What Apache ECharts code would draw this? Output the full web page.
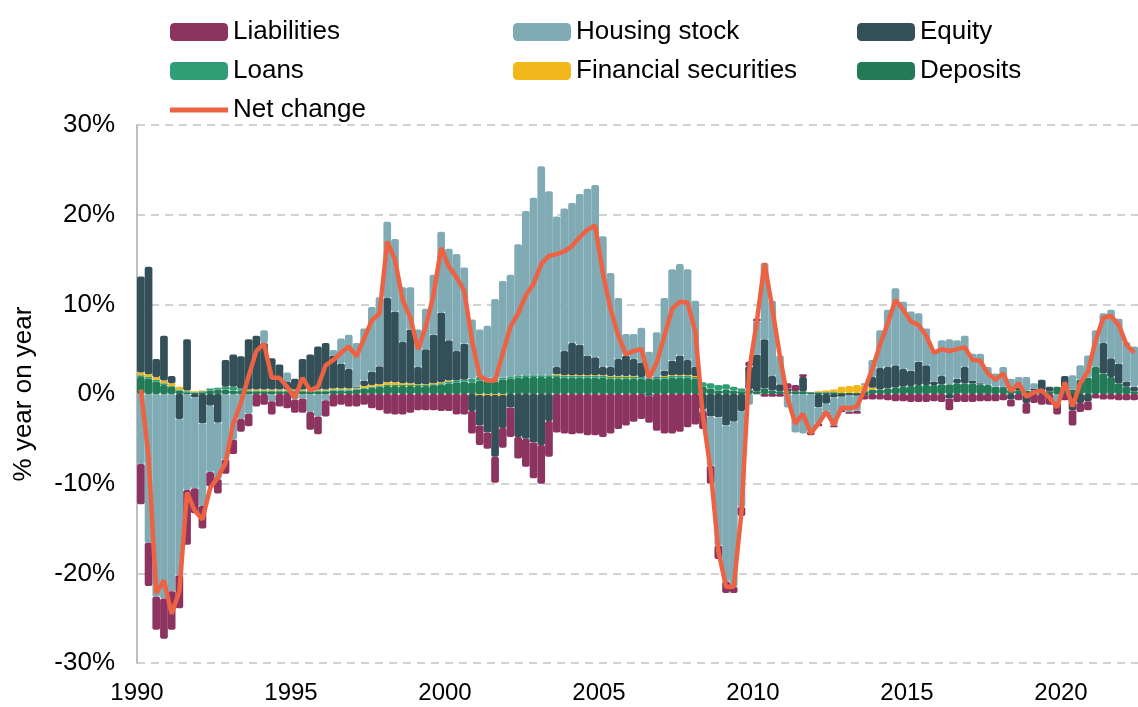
<!DOCTYPE html>
<html>
<head>
<meta charset="utf-8">
<title>Household balance sheet</title>
<script src="https://cdn.jsdelivr.net/npm/echarts/dist/echarts.min.js"></script>
<style>
  html, body { margin: 0; padding: 0; background: #fff; }
  #chart { width: 1138px; height: 707px; }
</style>
</head>
<body>
<div id="chart"></div>
<script>
// quarterly data, 1990 Q1 .. 2022 Q2, % year on year
const firstYear = 1990
const quarterCount = 130

const deposits = [
  1.9, 1.7, 1.4, 1.0,  0.8, 0.4, 0.2, 0.1,  0.2, 0.4, 0.5, 0.5,  0.4, 0.4, 0.3, 0.3,
  0.3, 0.3, 0.3, 0.3,  0.3, 0.3, 0.3, 0.3,  0.3, 0.4, 0.4, 0.4,  0.5, 0.6, 0.7, 0.8,
  0.9, 0.9, 0.9, 0.9,  0.9, 0.9, 1.0, 1.1,  1.2, 1.3, 1.4, 1.3,  1.5, 1.5, 1.4, 1.6,
  1.7, 1.8, 1.9, 1.9,  1.9, 1.9, 1.9, 1.8,  1.8, 1.8, 1.8, 1.8,  1.8, 1.7, 1.7, 1.7,
  1.7, 1.7, 1.7, 1.7,  1.7, 1.8, 1.8, 1.8,  1.7, 0.8, 0.6, 0.4,  0.5, 0.4, 0.3, 0.5,
  0.3, 0.6, 0.4, 0.3,  0.3, 0.3, 0.3, 0.2,  0.2, 0.2, 0.2, 0.1,  0.1, 0.1, 0.3, 0.5,
  0.5, 0.6, 0.7, 0.8,  0.9, 1.0, 1.0, 1.0,  1.1, 1.1, 1.2, 1.2,  1.2, 1.1, 1.0, 0.8,
  0.7, 0.5, 0.4, 0.4,  0.4, 0.4, 0.3, 0.8,  0.4, 0.5, 1.6, 1.8,  3.0, 2.3, 1.9, 1.2,
  0.8, 0.3
]
const loans = [
  0.2, 0.2, 0.2, 0.2,  0.1, 0.1, 0.1, 0.1,  0.1, 0.2, 0.2, 0.3,  0.4, 0.2, 0.1, 0.1,
  0.1, 0.1, 0.1, 0.1,  0.1, 0.1, 0.1, 0.1,  0.1, 0.1, 0.1, 0.1,  0.1, 0.1, 0.1, 0.1,
  0.1, 0.1, 0.1, 0.1,  0.1, 0.1, 0.1, 0.1,  0.2, 0.2, 0.2, 0.4,  0.4, 0.3, 0.2, 0.2,
  0.2, 0.2, 0.2, 0.2,  0.2, 0.2, 0.2, 0.2,  0.2, 0.2, 0.2, 0.2,  0.2, 0.2, 0.2, 0.2,
  0.2, 0.2, 0.1, 0.1,  0.2, 0.2, 0.2, 0.2,  0.2, 0.5, 0.6, 0.6,  0.6, 0.4, 0.3, 0,
  0, 0, 0, 0,  0, 0, 0, 0,  0, 0, 0, 0,  0, 0, 0, 0,
  0, 0, 0, 0,  0, 0, 0, 0,  0, 0, 0, 0,  0, 0, 0, 0,
  0, 0, 0, 0,  0, 0, 0, 0,  0, 0, 0, 0,  0, 0, 0, 0,
  0, 0
]
const securities = [
  0.3, 0.3, 0.3, 0.3,  0.3, 0.3, 0.1, 0.1,  0.1, 0, 0, 0,  0, 0, 0.1, 0.1,
  0.1, 0.1, 0.1, 0.1,  0.1, 0.1, 0.1, 0.1,  0.1, 0.1, 0.1, 0.1,  0.1, 0.2, 0.2, 0.2,
  0.3, 0.3, 0.2, 0.2,  0.1, 0.1, 0.1, 0.1,  0.1, 0, 0, 0,  -0.1, -0.1, -0.1, -0.1,
  0, 0, 0, 0,  0, 0, 0.1, 0.1,  0.1, 0.1, 0.1, 0.1,  0.1, 0.1, 0.1, 0.1,
  0.1, 0, 0, 0,  0.1, 0.1, 0.1, 0.1,  0.1, 0, 0, 0,  0, 0, 0, 0,
  0, 0, 0, 0,  0, 0, 0, 0,  0.1, 0.2, 0.3, 0.7,  0.8, 0.9, 0.7, 0.2,
  0, 0, 0, 0,  0, 0, 0, 0,  0, 0, 0, 0,  0, 0, 0, 0,
  0, 0, 0, 0,  0, 0, 0, 0,  0, 0, 0, 0,  0, 0, 0, 0,
  0, 0
]
const equity = [
  10.7, 12.0, 2.0, 5.0,  0.8, -2.8, 5.7, -0.4,  -3.3, -1.3, -3.2, 3.0,  3.6, 3.6, 5.6, 6.0,
  5.2, 3.5, 2.8, 0.9,  1.2, 3.4, 3.9, 4.8,  5.2, 3.7, 2.8, 2.2,  0.1, 0.6, 1.5, 2.0,
  9.4, 7.9, 4.6, 6.0,  1.9, 3.9, 5.4, 7.8,  4.5, 3.3, 4.0, -1.9,  -3.4, -4.2, -6.9, -3.7,
  -1.5, -4.8, -5.0, -5.4,  -5.7, -3.0, 0.8, 2.7,  3.6, 3.4, 2.2, 2.0,  0.9, 1.0, 1.9, 2.3,
  1.9, 1.6, -0.2, 0.1,  0.6, 1.6, 2.2, 1.7,  1.0, -1.7, -2.5, -2.6,  -3.5, -3.1, -1.9, 2.6,
  4.1, 5.5, 1.6, 0.8,  0.3, 0, 1.6, 0,  -1.5, -1.1, -0.4, -0.3,  -0.1, -0.2, -0.2, 1.2,
  2.4, 2.4, 2.5, 2.0,  1.7, 2.6, 2.2, 0.4,  0.9, -0.5, 0.5, 1.8,  0.3, 0.1, 0, 0,
  0.1, -0.6, 0.3, -1.0,  0.2, 1.2, 0.5, 0,  1.6, -1.8, -1.0, -0.8,  0, 3.4, 2.1, 2.2,
  0.6, 0.5
]
const housing = [
  -7.8, -16.6, -22.6, -22.8,  -22.0, -17.4, -10.7, -10.1,  -9.2, -7.4, -6.3, -7.3,  -5.1, -2.8, -2.2, 0,
  1.4, -0.8, 0, 1.0,  -0.6, -0.5, -2.0, -2.5,  -0.7, 0.6, 2.8, 3.8,  4.9, 5.8, 7.2, 7.7,
  8.5, 8.1, 6.1, 4.7,  4.2, 4.5, 6.7, 9.0,  10.2, 10.8, 8.5, 6.6,  5.3, 5.8, 9.0, 10.8,
  11.4, 14.7, 18.3, 19.8,  23.3, 20.5, 16.8, 15.9,  15.6, 16.8, 18.6, 19.2,  14.6, 10.5, 6.8, 2.4,
  2.8, 3.9, 2.9, 5.0,  8.1, 10.2, 10.2, 10.1,  7.4, -0.2, -5.5, -14.3,  -17.4, -18.4, -10.7, -1.2,
  3.7, 8.5, 8.4, 3.2,  -1.5, -4.3, -4.4, -4.2,  -1.8, -0.9, -3.1, -1.5,  -1.9, -1.7, 0.2, 1.9,
  4.2, 6.4, 8.6, 7.5,  6.6, 5.4, 4.1, 3.5,  4.0, 5.0, 4.3, 3.5,  3.0, 3.3, 2.0, 1.5,
  2.2, 1.2, 1.2, 1.5,  0.6, 0, 0, -1.0,  0, 1.6, 1.6, 2.5,  4.1, 3.3, 5.4, 5.0,
  4.4, 4.5
]
const liabilities = [
  -4.5, -4.8, -3.7, -4.5,  -4.3, -3.7, -6.1, -2.8,  -2.5, -1.6, -1.6, -1.6,  -1.6, -1.4, -1.4, -1.4,
  -1.2, -1.5, -1.4, -1.6,  -1.5, -1.6, -2.0, -2.0,  -1.8, -1.4, -1.2, -1.4,  -1.4, -1.2, -1.6, -1.8,
  -2.2, -2.3, -2.3, -2.1,  -1.8, -1.8, -1.8, -1.9,  -1.9, -2.3, -2.3, -2.5,  -2.2, -1.8, -2.9, -2.2,
  -3.3, -2.4, -3.1, -4.0,  -4.3, -4.0, -4.3, -4.4,  -4.5, -4.4, -4.6, -4.6,  -4.8, -4.4, -3.9, -3.5,
  -3.1, -2.8, -3.0, -4.1,  -4.4, -4.4, -4.2, -3.7,  -3.4, -2.0, -2.0, -1.5,  -1.3, -0.7, -1.0, 0.5,
  0.3, -0.3, -0.3, -0.3,  0.6, 0.7, 0.3, -0.4,  -0.3, -0.2, -0.2, -0.2,  -0.2, -0.3, -0.4, -0.6,
  -0.6, -0.7, -0.8, -0.8,  -0.9, -0.9, -0.9, -0.8,  -0.9, -1.3, -0.9, -0.9,  -0.9, -0.8, -0.8, -0.8,
  -0.7, -0.8, -0.7, -1.2,  -1.0, -1.2, -1.2, -1.3,  -0.7, -1.7, -1.0, -1.0,  -0.5, -0.6, -0.6, -0.7,
  -0.7, -0.7
]
const netChange = [
  0.5, -7.0, -22.2, -20.8,  -24.5, -22.0, -11.0, -13.0,  -14.0, -10.5, -9.3, -7.7,  -3.3, -1.0, 2.0, 4.8,
  5.6, 1.8, 1.8, 0.8,  -0.4, 1.8, 0.4, 0.8,  3.2, 3.8, 4.6, 5.3,  4.2, 6.2, 8.2, 9.0,
  17.0, 15.0, 10.5, 8.5,  5.0, 7.5, 11.0, 16.3,  14.2, 13.0, 11.5, 6.0,  2.0, 1.5, 1.5, 4.5,
  7.5, 9.0, 11.0, 12.3,  14.5, 15.4, 15.6, 15.9,  16.5, 17.5, 18.3, 18.8,  13.5, 9.5, 6.5, 4.4,
  4.8, 5.0, 1.8, 3.5,  6.5, 9.5, 10.3, 10.2,  7.0, -2.5, -8.5, -17.5,  -21.5, -21.5, -13.2, 2.6,
  8.1, 14.6, 9.6, 4.2,  -0.5, -3.3, -2.2, -4.4,  -3.3, -2.0, -3.4, -1.5,  -1.6, -1.4, 0.5, 2.8,
  5.5, 7.9, 10.5, 9.4,  8.1, 7.7, 6.5, 4.6,  5.0, 4.8, 5.0, 5.2,  3.8, 3.7, 2.3, 1.6,
  2.3, 0.3, 1.2, -0.3,  0.2, 0.4, -0.4, -1.5,  1.3, -1.4, 1.2, 2.5,  6.0, 8.5, 8.7, 7.7,
  5.5, 4.6
]
const yearTicks = [1990, 1995, 2000, 2005, 2010, 2015, 2020]

// quarter labels for the category axis
const quarters = []
for (let i = 0; i < quarterCount; i++) {
  quarters.push((firstYear + Math.floor(i / 4)) + ' Q' + (i % 4 + 1))
}

const font = 'Liberation Sans, Arial, sans-serif'
const lineIcon = 'path://M0,6.5L58,6.5L58,11.5L0,11.5Z M0,0L0.01,0L0.01,0.01Z M57.99,17.99L58,17.99L58,18Z'

function barSeries(name, values, color) {
  return {
    name: name,
    type: 'bar',
    stack: 'total',
    barCategoryGap: '0%',
    data: values.map(v => (v === 0 ? '-' : v)),
    itemStyle: { color: color, borderRadius: 2 }
  }
}

const legendBase = {
  orient: 'vertical',
  top: 19,
  padding: 0,
  itemGap: 13,
  itemWidth: 58,
  itemHeight: 18,
  itemStyle: { borderWidth: 0 },
  textStyle: { fontSize: 26, color: '#000', fontFamily: font }
}

const chart = echarts.init(document.getElementById('chart'))
chart.setOption({
  animation: false,
  textStyle: { fontFamily: font },
  grid: { left: 137, right: 0, top: 125, bottom: 44 },
  legend: [
    Object.assign({ left: 170, data: [{ name: 'Liabilities', icon: 'roundRect' }, { name: 'Loans', icon: 'roundRect' }, { name: 'Net change', icon: lineIcon }] }, legendBase),
    Object.assign({ left: 513, data: [{ name: 'Housing stock', icon: 'roundRect' }, { name: 'Financial securities', icon: 'roundRect' }] }, legendBase),
    Object.assign({ left: 857, data: [{ name: 'Equity', icon: 'roundRect' }, { name: 'Deposits', icon: 'roundRect' }] }, legendBase)
  ],
  xAxis: [
    { // quarters, carries the bars and the line
      type: 'category',
      data: quarters,
      boundaryGap: true,
      show: false
    },
    { // years, only for the labels
      type: 'value',
      position: 'bottom',
      min: firstYear,
      max: firstYear + quarterCount / 4,
      interval: 5,
      axisLine: { show: false },
      axisTick: { show: false },
      splitLine: { show: false },
      axisLabel: {
        fontSize: 24,
        color: '#000',
        margin: 18,
        showMaxLabel: false,
        formatter: v => (yearTicks.indexOf(v) >= 0 ? String(v) : '')
      }
    }
  ],
  yAxis: {
    type: 'value',
    min: -30,
    max: 30,
    interval: 10,
    name: '% year on year',
    nameLocation: 'middle',
    nameGap: 100,
    nameTextStyle: { fontSize: 26, color: '#000' },
    axisLine: { show: true, lineStyle: { color: '#bfbfbf', width: 2 } },
    axisTick: { show: false },
    axisLabel: { fontSize: 26, color: '#000', margin: 22, formatter: '{value}%' },
    splitLine: { lineStyle: { color: '#c4c4c4', width: 1.5, type: [8, 6] } }
  },
  series: [
    barSeries('Deposits', deposits, '#237a57'),
    barSeries('Loans', loans, '#2f9e75'),
    barSeries('Financial securities', securities, '#f2b71a'),
    barSeries('Equity', equity, '#334f57'),
    barSeries('Housing stock', housing, '#80abb4'),
    barSeries('Liabilities', liabilities, '#8c3360'),
    {
      name: 'Net change',
      type: 'line',
      data: netChange,
      symbol: 'none',
      z: 5,
      lineStyle: { color: '#ee6244', width: 4.5 },
      itemStyle: { color: '#ee6244' }
    }
  ]
})
</script>
</body>
</html>
